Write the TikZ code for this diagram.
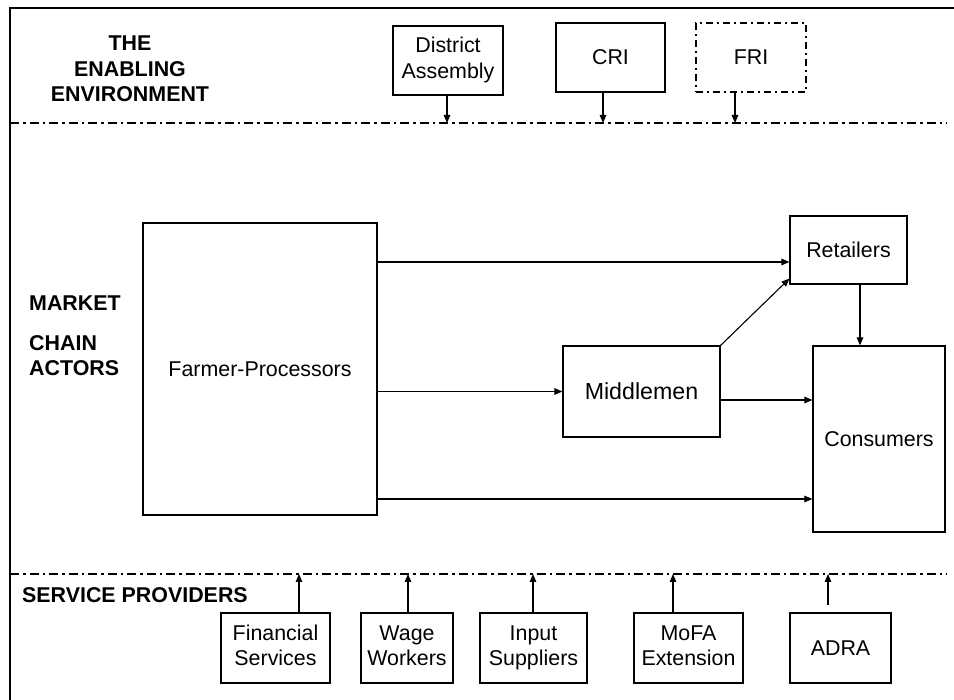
\documentclass[tikz,border=0pt]{standalone}
\usepackage{fontspec}
\setmainfont{Liberation Sans}
\usetikzlibrary{arrows.meta}
\newcommand{\twoline}[2]{\strut #1\\\strut #2}
\begin{document}
\begin{tikzpicture}[x=1pt,y=-1pt,
  every node/.style={font=\fontsize{21.4}{25.5}\selectfont},
  box/.style={draw, line width=1.2pt, inner sep=0pt, align=center},
  dotbox/.style={box, dash pattern=on 7pt off 4pt on 2pt off 4pt},
  zone/.style={line width=1.2pt, dash pattern=on 9pt off 4pt on 2.5pt off 4pt},
  arr/.style={line width=1.1pt, -{Triangle[length=8pt,width=6.5pt]}},
  head/.style={font=\fontsize{21.4}{25.5}\selectfont\bfseries, inner sep=0pt}]
\useasboundingbox (0,0) rectangle (954,700);

% outer frame (top and left edges)
\draw[line width=2pt] (10,700) -- (10,8) -- (954,8);

% zone separators
\coordinate (tl) at (10,123);
\coordinate (tr) at (947,123);
\coordinate (bl) at (10,574);
\coordinate (br) at (947,574);
\draw[zone] (tl) -- (tr);
\draw[zone] (bl) -- (br);

% section headings
\node[head, align=center] (henv) at (130,69) {THE\\ENABLING\\ENVIRONMENT};
\node[head, anchor=west] (hmkt) at (29,303) {MARKET};
\node[head, anchor=west, align=left] (hact) at (29,355.5) {CHAIN\\ACTORS};
\node[head, anchor=west] (hsrv) at (22,595) {SERVICE PROVIDERS};

% enabling environment
\node[box, minimum width=110pt, minimum height=69pt] (da) at (448,60.5) {\twoline{District}{Assembly}};
\node[box, minimum width=109pt, minimum height=69pt] (cri) at (610.5,57.5) {CRI};
\node[dotbox, minimum width=110pt, minimum height=69pt] (fri) at (751,57.5) {FRI};

\coordinate (xda) at (447,0);
\coordinate (xcri) at (603,0);
\coordinate (xfri) at (735,0);
\draw[arr] (da.south -| xda) -- (tl -| xda);
\draw[arr] (cri.south -| xcri) -- (tl -| xcri);
\draw[arr] (fri.south -| xfri) -- (tl -| xfri);

% market chain actors
\node[box, minimum width=234pt, minimum height=292pt] (fp) at (260,369) {Farmer-Processors};
\node[box, minimum width=117pt, minimum height=68pt] (ret) at (848.5,250) {Retailers};
\node[box, minimum width=157pt, minimum height=91pt, font=\fontsize{23.2}{27}\selectfont] (mid) at (641.5,391.5) {Middlemen};
\node[box, minimum width=132pt, minimum height=186pt] (con) at (879,439) {Consumers};

\coordinate (y1) at (0,262);
\coordinate (y2) at (0,400);
\coordinate (y3) at (0,499);
\coordinate (xrc) at (860,0);
\draw[arr] (fp.east |- y1) -- (ret.west |- y1);
\draw[arr] (fp.east |- mid.west) -- (mid.west);
\draw[arr] (mid.north east) -- ([yshift=6pt]ret.south west);
\draw[arr] (mid.east |- y2) -- (con.west |- y2);
\draw[arr] (fp.east |- y3) -- (con.west |- y3);
\draw[arr] (ret.south -| xrc) -- (con.north -| xrc);

% service providers
\node[box, minimum width=109pt, minimum height=70pt] (fin) at (275.5,648) {\twoline{Financial}{Services}};
\node[box, minimum width=92pt, minimum height=70pt] (wage) at (407,648) {\twoline{Wage}{Workers}};
\node[box, minimum width=107pt, minimum height=70pt] (inp) at (533.5,648) {\twoline{Input}{Suppliers}};
\node[box, minimum width=109pt, minimum height=70pt] (mofa) at (688.5,648) {\twoline{MoFA}{Extension}};
\node[box, minimum width=101pt, minimum height=70pt] (adra) at (840.5,648) {ADRA};

\coordinate (xfin) at (299,0);
\coordinate (xwage) at (408,0);
\coordinate (xinp) at (533,0);
\coordinate (xmofa) at (673,0);
\coordinate (xadra) at (828,0);
\draw[arr] (fin.north -| xfin) -- (bl -| xfin);
\draw[arr] (wage.north -| xwage) -- (bl -| xwage);
\draw[arr] (inp.north -| xinp) -- (bl -| xinp);
\draw[arr] (mofa.north -| xmofa) -- (bl -| xmofa);
\draw[arr, shorten <=7pt] (adra.north -| xadra) -- (bl -| xadra);
\end{tikzpicture}
\end{document}
